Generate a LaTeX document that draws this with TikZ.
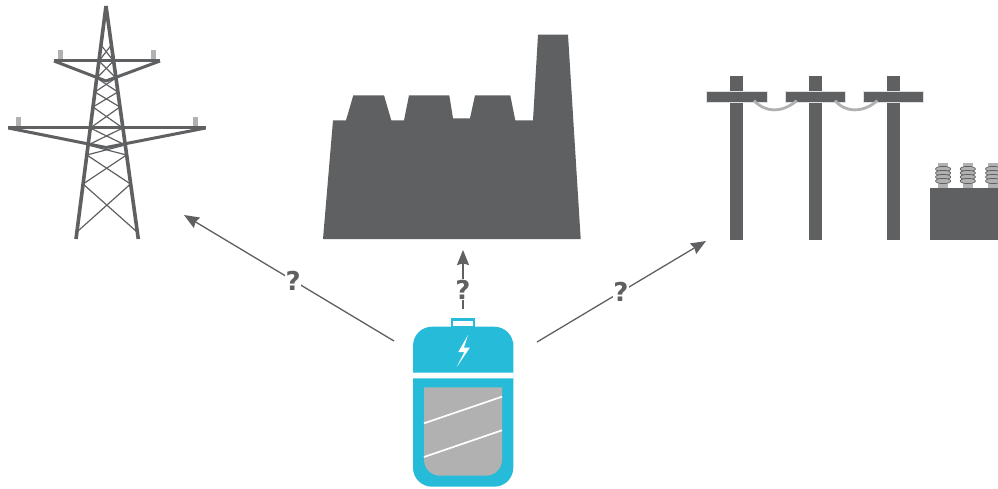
\documentclass[tikz,border=0pt]{standalone}
\usepackage{fontspec}
\setmainfont{DejaVu Sans}
\definecolor{dgrey}{HTML}{5F6062}
\definecolor{lgrey}{HTML}{B1B1B1}
\definecolor{cblue}{HTML}{25BBD9}
\usetikzlibrary{arrows.meta}

\begin{document}
\begin{tikzpicture}[x=1pt,y=-1pt,
      leg/.style={draw=dgrey,line width=3.6pt},
      brace/.style={draw=dgrey,line width=3pt,line join=round},
      lattice/.style={draw=dgrey,line width=1.2pt},
      beam/.style={draw=dgrey,line width=3pt},
      pin/.style={fill=lgrey},
      pole/.style={fill=dgrey},
      xarm/.style={fill=dgrey,draw=black!12,line width=0.8pt},
      wire/.style={draw=lgrey,line width=2.8pt},
      ring/.style={draw=dgrey,fill=lgrey,line width=0.7pt},
      arr/.style={draw=dgrey,line width=1.3pt,-{Stealth[length=15pt,width=12pt,inset=1.5pt]}},
      qm/.style={font=\bfseries\fontsize{26}{28}\selectfont,text=dgrey,fill=white,inner sep=0.5pt}]
    \clip (0,0) rectangle (998,489);
    % tower
    \foreach \ya/\yb in {232/184,184/155,155/145,145/128,128/107,107/92,92/78,78/61,61/45}{
      \pgfmathsetmacro{\xal}{106-30*(\ya-6)/232.7}
      \pgfmathsetmacro{\xar}{106+32*(\ya-6)/232.7}
      \pgfmathsetmacro{\xbl}{106-30*(\yb-6)/232.7}
      \pgfmathsetmacro{\xbr}{106+32*(\yb-6)/232.7}
      \draw[lattice] (\xal,\ya)--(\xbr,\yb);
      \draw[lattice] (\xar,\ya)--(\xbl,\yb);
    }
    \fill[pin] (58,50) rectangle (62.7,61);
    \fill[pin] (151,50) rectangle (155.7,61);
    \fill[pin] (16,117.3) rectangle (20.7,128);
    \fill[pin] (193,117.3) rectangle (197.7,128);
    \draw[beam] (54,61)--(160,61);
    \draw[beam] (8.3,128)--(205.7,128);
    \draw[brace] (54,61)--(106,81)--(160,61);
    \draw[brace] (8.3,128)--(106,147.5)--(205.7,128);
    \draw[leg] (76,239)--(106,6);
    \draw[leg] (138.3,239)--(106,6);
    % factory
    \fill[dgrey] (323,239)--(333,120.3)--(346,120.3)--(353.3,95.3)--(384,95.3)--(391.3,120.3)
      --(404,120.3)--(409,95.3)--(449.3,95.3)--(453,118.3)--(470,118.3)--(475,95.3)
      --(510.3,95.3)--(515.3,120.3)--(533,120.3)--(538,34.7)--(568,34.7)--(580.7,239)--cycle;
    % poles
    \foreach \x in {730,809,887}{
      \fill[pole] (\x,76) rectangle (\x+13,240);
    }
    \foreach \x in {706.7,785.3,863.3}{
      \draw[xarm] (\x,91) rectangle (\x+60.5,102.3);
    }
    \draw[wire] (754,100.7) .. controls (766,113) and (782,113) .. (796.7,100.7);
    \draw[wire] (835,100.7) .. controls (846,113) and (863,113) .. (877.3,100.7);
    % transformer
    \foreach \x in {938,962.7,988}{
      \fill[pin] (\x,163) rectangle (\x+10.3,188);
      \foreach \y in {169,173,177,181}{
        \draw[ring] (\x+5.1,\y) ellipse (7.6 and 2.6);
      }
    }
    \fill[dgrey] (930,187.7) rectangle (998,240);
    % battery
    \fill[cblue] (413,372.7)--(413,360)[rounded corners=19pt]--(413,326.7)--(513.3,326.7)--(513.3,360)[sharp corners]--(513.3,372.7)--cycle;
    \fill[cblue] (413,378.3)--(413,400)[rounded corners=19pt]--(413,486.7)--(513.3,486.7)--(513.3,400)[sharp corners]--(513.3,378.3)--cycle;
    \draw[cblue,line width=2.3pt,fill=white] (452.2,319.5) rectangle (474.2,326.7);
    \fill[lgrey] (424,387.3)--(424,400)[rounded corners=16pt]--(424,475.7)--(502,475.7)--(502,400)[sharp corners]--(502,387.3)--cycle;
    \draw[white,line width=1.7pt] (424,423.3)--(502,396.7);
    \draw[white,line width=1.7pt] (424,457)--(502,430.3);
    \fill[white] (468,335)--(458.3,352)--(464.3,352)--(456.7,367)--(470,347.5)--(464,347.5)--cycle;
    % arrows
    \coordinate (bat1) at (394,341);
    \coordinate (bat2) at (463,309);
    \coordinate (bat3) at (537,342);
    \coordinate (tower) at (184,215);
    \coordinate (factory) at (463,250);
    \coordinate (poles) at (706,241);
    \draw[arr] (bat1) -- node[qm,pos=0.48] (q1) {?} (tower);
    \draw[arr] (bat2) -- node[qm,pos=0.33] (q2) {?} (factory);
    \draw[arr] (bat3) -- node[qm,pos=0.497] (q3) {?} (poles);
  \end{tikzpicture}
\end{document}
